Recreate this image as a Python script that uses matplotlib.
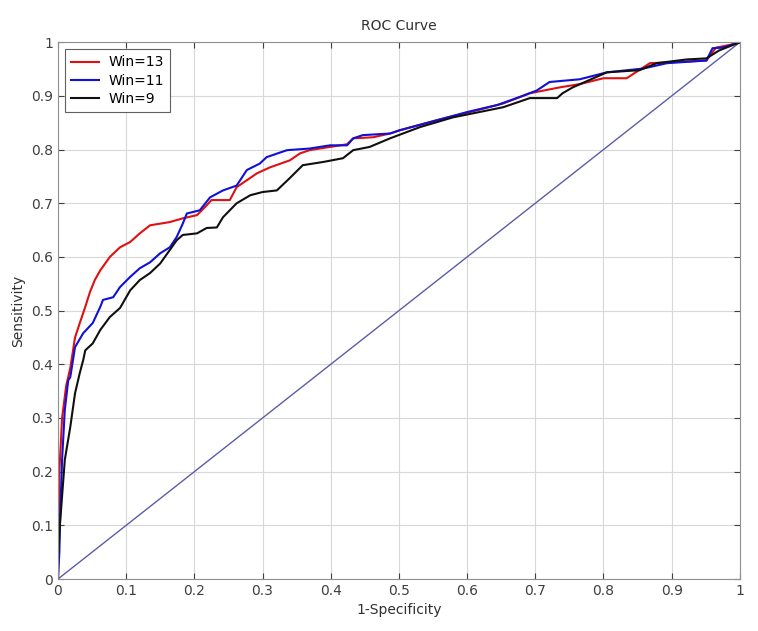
import matplotlib
matplotlib.use('Agg')
import matplotlib.pyplot as plt

plt.rcParams['font.family'] = ['DejaVu Sans']

# Win=13 (red)
fpr13 = [0, 0.002, 0.006, 0.012, 0.018, 0.025, 0.032, 0.040, 0.047, 0.054,
         0.062, 0.076, 0.091, 0.106, 0.120, 0.135, 0.164, 0.183, 0.204, 0.218,
         0.225, 0.252, 0.262, 0.292, 0.311, 0.340, 0.355, 0.369, 0.399, 0.424,
         0.433, 0.462, 0.487, 0.501, 0.556, 0.604, 0.653, 0.692, 0.736, 0.765,
         0.800, 0.834, 0.868, 0.951, 0.965, 0.985, 1.0]
tpr13 = [0, 0.2, 0.3, 0.36, 0.393, 0.45, 0.477, 0.507, 0.535, 0.557,
         0.575, 0.60, 0.618, 0.628, 0.644, 0.659, 0.665, 0.672, 0.678, 0.696,
         0.706, 0.706, 0.73, 0.756, 0.767, 0.78, 0.793, 0.799, 0.805, 0.81,
         0.821, 0.823, 0.83, 0.836, 0.855, 0.87, 0.886, 0.905, 0.916, 0.922,
         0.933, 0.933, 0.961, 0.966, 0.99, 0.995, 1.0]

# Win=11 (blue)
fpr11 = [0, 0.002, 0.003, 0.006, 0.010, 0.015, 0.018, 0.025, 0.037, 0.051,
         0.062, 0.066, 0.081, 0.091, 0.106, 0.120, 0.135, 0.150, 0.164, 0.174,
         0.183, 0.189, 0.208, 0.223, 0.242, 0.262, 0.277, 0.296, 0.306, 0.336,
         0.369, 0.399, 0.424, 0.433, 0.447, 0.487, 0.501, 0.545, 0.600, 0.644,
         0.677, 0.702, 0.721, 0.765, 0.805, 0.858, 0.893, 0.951, 0.96, 0.975, 1.0]
tpr11 = [0, 0.05, 0.11, 0.222, 0.315, 0.37, 0.376, 0.432, 0.458, 0.477,
         0.507, 0.52, 0.525, 0.544, 0.563, 0.579, 0.59, 0.607, 0.618, 0.637,
         0.662, 0.681, 0.687, 0.711, 0.724, 0.733, 0.762, 0.774, 0.786, 0.799,
         0.802, 0.808, 0.808, 0.821, 0.827, 0.83, 0.836, 0.851, 0.87, 0.883,
         0.898, 0.91, 0.926, 0.931, 0.944, 0.951, 0.961, 0.966, 0.989, 0.99, 1.0]

# Win=9 (black)
fpr9 = [0, 0.0, 0.003, 0.010, 0.018, 0.025, 0.032, 0.037, 0.040, 0.051,
        0.062, 0.076, 0.091, 0.106, 0.120, 0.135, 0.150, 0.164, 0.174, 0.183,
        0.204, 0.218, 0.233, 0.242, 0.262, 0.282, 0.300, 0.321, 0.340, 0.359,
        0.389, 0.418, 0.433, 0.457, 0.487, 0.531, 0.579, 0.653, 0.692, 0.732,
        0.74, 0.755, 0.805, 0.853, 0.878, 0.922, 0.951, 0.97, 1.0]
tpr9 = [0, 0.03, 0.104, 0.222, 0.283, 0.346, 0.384, 0.408, 0.426, 0.439,
        0.464, 0.488, 0.505, 0.538, 0.557, 0.57, 0.588, 0.613, 0.631, 0.641,
        0.644, 0.654, 0.655, 0.674, 0.70, 0.715, 0.721, 0.724, 0.747, 0.771,
        0.777, 0.784, 0.799, 0.805, 0.821, 0.842, 0.86, 0.879, 0.896, 0.896,
        0.905, 0.916, 0.944, 0.948, 0.961, 0.968, 0.97, 0.985, 1.0]

ticks = [0, 0.1, 0.2, 0.3, 0.4, 0.5, 0.6, 0.7, 0.8, 0.9, 1]
tick_labels = ['0', '0.1', '0.2', '0.3', '0.4', '0.5', '0.6', '0.7', '0.8', '0.9', '1']

fig = plt.figure(figsize=(7.58, 6.31), dpi=100)
ax = fig.add_axes([0.0765, 0.0824, 0.8995, 0.8506])

ax.plot([0, 1], [0, 1], color='#5c5ca8', lw=1.0)
ax.plot(fpr13, tpr13, color='#e01010', lw=1.5, label='Win=13')
ax.plot(fpr11, tpr11, color='#1010d8', lw=1.5, label='Win=11')
ax.plot(fpr9, tpr9, color='#101010', lw=1.5, label='Win=9')

ax.set_xlim(0, 1)
ax.set_ylim(0, 1)
ax.set_xticks(ticks)
ax.set_xticklabels(tick_labels)
ax.set_yticks(ticks)
ax.set_yticklabels(tick_labels)
ax.tick_params(direction='in', top=True, right=True, labelsize=10,
               colors='#404040', length=4)
ax.grid(True, color='#d8d8d8', lw=0.8)
for s in ax.spines.values():
    s.set_color('#909090')

ax.set_title('ROC Curve', fontsize=10, color='#303030', pad=9)
ax.set_xlabel('1-Specificity', fontsize=10, color='#303030', labelpad=4)
ax.set_ylabel('Sensitivity', fontsize=10, color='#303030', labelpad=4)

leg = ax.legend(loc='upper left', fontsize=10, fancybox=False, framealpha=1,
                edgecolor='#606060', borderaxespad=0.5, handlelength=2.0,
                handletextpad=0.7, labelspacing=0.3, borderpad=0.45)
leg.get_frame().set_linewidth(0.8)

plt.savefig('out.png', dpi=100)
